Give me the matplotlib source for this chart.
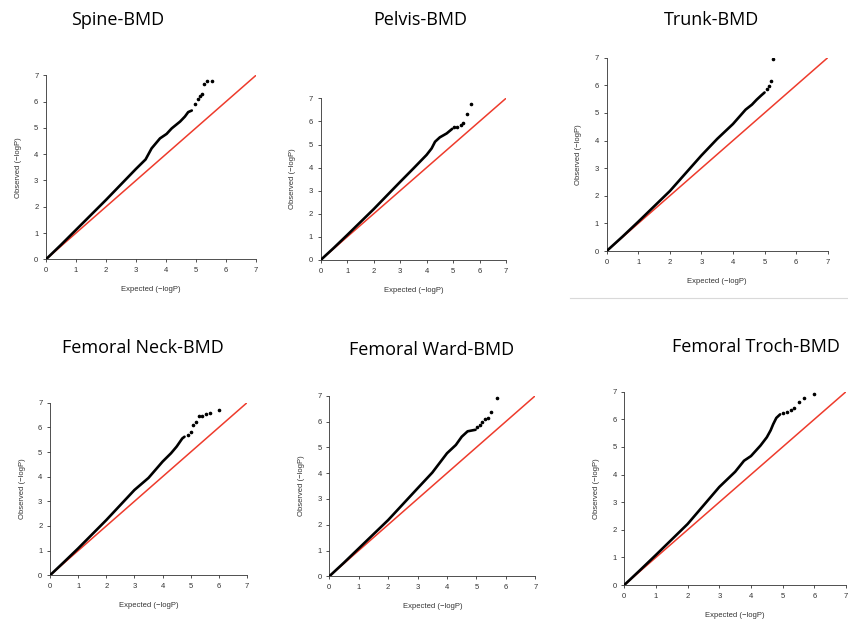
import matplotlib
matplotlib.use("Agg")
import matplotlib.pyplot as plt

plt.rcParams['font.family'] = ['Liberation Sans', 'DejaVu Sans']

# ---- data (expected -logP, observed -logP) ----
titles = ["Spine-BMD", "Pelvis-BMD", "Trunk-BMD",
          "Femoral Neck-BMD", "Femoral Ward-BMD", "Femoral Troch-BMD"]

spine_exp = [0, 0.5, 1, 2, 3, 3.32, 3.52, 3.8, 4.02, 4.19, 4.47, 4.63, 4.74, 4.86]
spine_obs = [0, 0.55, 1.12, 2.26, 3.44, 3.8, 4.22, 4.6, 4.77, 4.98, 5.24, 5.43, 5.6, 5.66]
spine_tail_exp = [4.97, 5.06, 5.13, 5.21, 5.28, 5.38, 5.52]
spine_tail_obs = [5.92, 6.09, 6.21, 6.29, 6.66, 6.77, 6.77]

pelvis_exp = [0, 0.5, 1, 2, 3, 3.5, 4.0, 4.19, 4.32, 4.5, 4.76, 4.97]
pelvis_obs = [0, 0.53, 1.08, 2.2, 3.38, 3.96, 4.55, 4.83, 5.12, 5.31, 5.48, 5.68]
pelvis_tail_exp = [5.05, 5.14, 5.29, 5.36, 5.51, 5.68]
pelvis_tail_obs = [5.74, 5.77, 5.85, 5.93, 6.32, 6.76]

trunk_exp = [0, 0.5, 1, 2, 3, 3.5, 4.0, 4.4, 4.6, 4.75, 4.9, 5.0]
trunk_obs = [0, 0.52, 1.06, 2.17, 3.46, 4.06, 4.6, 5.12, 5.3, 5.48, 5.64, 5.74]
trunk_tail_exp = [5.07, 5.13, 5.2, 5.28]
trunk_tail_obs = [5.85, 5.98, 6.17, 6.95]

neck_exp = [0, 0.5, 1, 2, 3, 3.5, 4.0, 4.3, 4.5, 4.7, 4.78]
neck_obs = [0, 0.54, 1.09, 2.24, 3.46, 3.95, 4.61, 4.95, 5.22, 5.55, 5.62]
neck_tail_exp = [4.9, 5.0, 5.09, 5.2, 5.31, 5.4, 5.54, 5.69, 6.0]
neck_tail_obs = [5.7, 5.82, 6.1, 6.21, 6.46, 6.48, 6.54, 6.58, 6.7]

ward_exp = [0, 0.5, 1, 2, 3, 3.5, 4.0, 4.3, 4.5, 4.7, 4.97]
ward_obs = [0, 0.53, 1.08, 2.18, 3.41, 4.02, 4.77, 5.09, 5.41, 5.62, 5.68]
ward_tail_exp = [5.03, 5.11, 5.2, 5.3, 5.4, 5.51, 5.7]
ward_tail_obs = [5.8, 5.88, 5.97, 6.11, 6.14, 6.38, 6.91]

troch_exp = [0, 0.5, 1, 2, 3, 3.5, 3.78, 4.0, 4.3, 4.5, 4.62, 4.7, 4.8, 4.92]
troch_obs = [0, 0.54, 1.09, 2.21, 3.55, 4.1, 4.5, 4.67, 5.05, 5.35, 5.6, 5.82, 6.05, 6.18]
troch_tail_exp = [5.02, 5.13, 5.26, 5.37, 5.52, 5.68, 6.0]
troch_tail_obs = [6.24, 6.28, 6.34, 6.42, 6.64, 6.77, 6.92]

ticks = [0, 1, 2, 3, 4, 5, 6, 7]

panels = [
    (spine_exp, spine_obs, spine_tail_exp, spine_tail_obs),
    (pelvis_exp, pelvis_obs, pelvis_tail_exp, pelvis_tail_obs),
    (trunk_exp, trunk_obs, trunk_tail_exp, trunk_tail_obs),
    (neck_exp, neck_obs, neck_tail_exp, neck_tail_obs),
    (ward_exp, ward_obs, ward_tail_exp, ward_tail_obs),
    (troch_exp, troch_obs, troch_tail_exp, troch_tail_obs),
]

# ---- layout (pixel boxes: x0, x7, y_top(7), y_bottom(0)) ----
W, H = 848, 628
boxes = [
    (46, 256, 75.3, 259.3),
    (320.7, 506, 98.3, 260),
    (606.7, 827.7, 57.7, 251),
    (50, 247, 402.7, 575.3),
    (329.3, 535.3, 395.7, 576.3),
    (624.3, 846, 391.7, 585),
]
title_pos = [(118, 20), (420, 20), (712, 20), (143, 348), (432, 350), (756, 347)]

fig = plt.figure(figsize=(W / 100, H / 100), dpi=100)
fig.patch.set_facecolor("white")

for (ex, ob, tex, tob), (x0, x1, yt, yb), title, (tx, ty) in zip(panels, boxes, titles, title_pos):
    ax = fig.add_axes([x0 / W, 1 - yb / H, (x1 - x0) / W, (yb - yt) / H])
    ax.plot([0, 7], [0, 7], color="#ee3b2c", lw=1.1, zorder=2, solid_capstyle="butt")
    ax.plot(ex, ob, color="black", lw=1.9, zorder=3, solid_capstyle="round")
    ax.plot(tex, tob, linestyle="none", marker="o", ms=1.6, color="black", zorder=3)
    ax.set_xlim(0, 7)
    ax.set_ylim(0, 7)
    ax.set_xticks(ticks)
    ax.set_yticks(ticks)
    for s in ["top", "right"]:
        ax.spines[s].set_visible(False)
    for s in ["left", "bottom"]:
        ax.spines[s].set_linewidth(0.6)
        ax.spines[s].set_color("#333333")
    ax.tick_params(direction="out", length=2.5, width=0.6, colors="#333333",
                   labelsize=5.5, pad=3)
    ax.set_xlabel("Expected (\u2212logP)", fontsize=5.5, color="#333333", labelpad=9)
    ax.set_ylabel("Observed (\u2212logP)", fontsize=5.5, color="#333333", labelpad=9)
    fig.text(tx / W, 1 - ty / H, title, fontsize=13, ha="center", va="center",
             family=["Open Sans", "DejaVu Sans"], color="black")

# thin grey separator under the Trunk panel
fig.add_artist(plt.Line2D([570 / W, 1.0], [1 - 298 / H, 1 - 298 / H],
                          color="#d9d9d9", lw=0.8, transform=fig.transFigure))

fig.savefig("out.png", dpi=100, facecolor="white")
